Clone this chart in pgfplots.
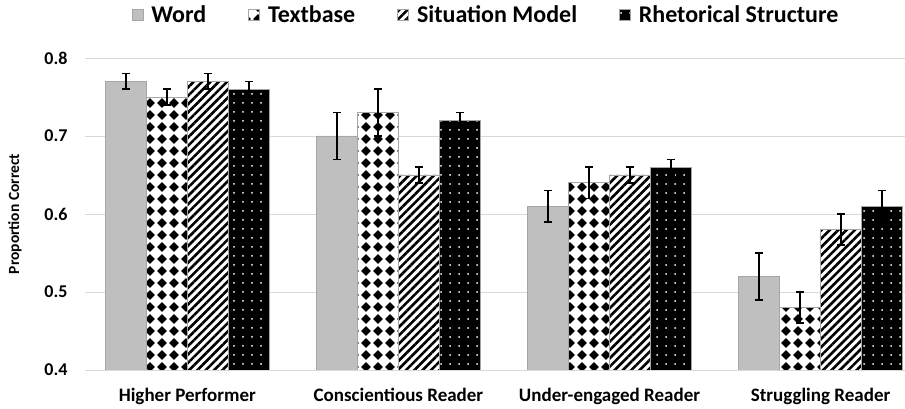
\documentclass[border=0pt]{standalone}
\usepackage{pgfplots}
\pgfplotsset{compat=1.18}
\usetikzlibrary{patterns.meta}
\usepackage{fontspec}
\setmainfont{Carlito}

\tikzdeclarepattern{
  name=Diam,
  type=uncolored,
  bottom left={(-0.1pt,-0.1pt)}, top right={(12.1pt,12.1pt)},
  tile size={(12pt,12pt)},
  code={\fill (6pt,1.2pt) -- (10.8pt,6pt) -- (6pt,10.8pt) -- (1.2pt,6pt) -- cycle;}
}

\definecolor{wordgray}{HTML}{BFBFBF}
\definecolor{edgegray}{HTML}{A6A6A6}
\definecolor{gridgray}{HTML}{D9D9D9}

\begin{document}
\begin{tikzpicture}
\begin{axis}[
  scale only axis, width=820pt, height=312pt,
  ymin=0.4, ymax=0.8, ytick={0.4,0.5,0.6,0.7,0.8},
  xmin=-0.485, xmax=3.40,
  xtick={0,1,2,3},
  xticklabels={Higher Performer, Conscientious Reader, Under-engaged Reader, Struggling Reader},
  ybar=0pt, bar width=0.194,
  axis line style={draw=none},
  major tick length=0pt,
  ymajorgrids, grid style={draw=gridgray, line width=0.9pt},
  /pgf/number format/assume math mode=true,
  /pgf/number format/fixed, /pgf/number format/fixed zerofill, /pgf/number format/precision=1,
  tick label style={font=\fontsize{18}{20}\selectfont\bfseries},
  yticklabel style={xshift=-14pt},
  xticklabel style={yshift=-15pt, font=\fontsize{19}{21}\selectfont\bfseries},
  ylabel={Proportion Correct},
  every axis y label/.style={at={(axis description cs:-0.0854,0.5)}, rotate=90, anchor=center,
    font=\fontsize{15.5}{17}\selectfont\bfseries},
  legend columns=4,
  legend style={at={(0.489,1.138)}, anchor=center, draw=none, fill=none,
    font=\fontsize{24}{26}\selectfont\bfseries,
    /tikz/every odd column/.append style={column sep=6pt},
    /tikz/every even column/.append style={column sep=40pt}},
  legend image code/.code={\draw[#1] (0pt,-5.5pt) rectangle (11pt,5.5pt);},
  error bars/y dir=both, error bars/y explicit,
  error bars/error bar style={line width=1.7pt, black, solid},
  error bars/error mark options={rotate=90, mark size=4pt, line width=1.7pt, black},
]
\addplot[fill=wordgray, draw=edgegray, line width=0.8pt] coordinates {
  (0,0.77) +- (0,0.01)
  (1,0.70) +- (0,0.03)
  (2,0.61) +- (0,0.02)
  (3,0.52) +- (0,0.03)
};
\addplot[draw=edgegray, line width=0.8pt, preaction={fill=white}, pattern={Diam}, pattern color=black] coordinates {
  (0,0.75) +- (0,0.01)
  (1,0.73) +- (0,0.03)
  (2,0.64) +- (0,0.02)
  (3,0.48) +- (0,0.02)
};
\addplot[draw=edgegray, line width=0.8pt, preaction={fill=white}, pattern={Lines[angle=45, distance=5.9pt, line width=2.6pt]}, pattern color=black] coordinates {
  (0,0.77) +- (0,0.01)
  (1,0.65) +- (0,0.01)
  (2,0.65) +- (0,0.01)
  (3,0.58) +- (0,0.02)
};
\addplot[draw=edgegray, line width=0.8pt, preaction={fill=black}, pattern={Dots[distance=9pt, radius=1pt]}, pattern color=white] coordinates {
  (0,0.76) +- (0,0.01)
  (1,0.72) +- (0,0.01)
  (2,0.66) +- (0,0.01)
  (3,0.61) +- (0,0.02)
};
\legend{Word, Textbase, Situation Model, Rhetorical Structure}
\end{axis}
\pgfresetboundingbox
\path[use as bounding box] (-85pt,-39pt) rectangle (820pt,370pt);
\end{tikzpicture}
\end{document}
